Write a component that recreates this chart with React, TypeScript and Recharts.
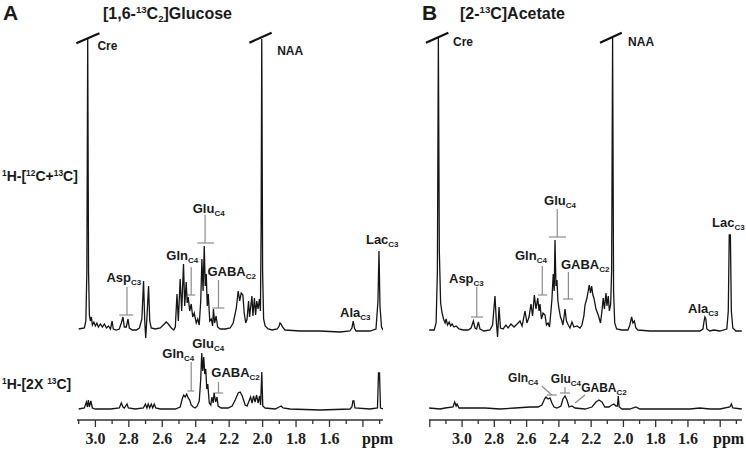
import { Line, LineChart, ReferenceDot, ReferenceLine, XAxis, YAxis } from "recharts";

const SANS = '"Liberation Sans", Arial, sans-serif';
const SERIF = '"Liberation Serif", "Times New Roman", serif';

type Pt = [number, number];

// [ppm, intensity], intensity in arbitrary units
const glucoseTotal: Pt[] = [
  [3.1, 2], [3.066, 3], [3.057, 10], [3.051, 60], [3.046, 292], [3.041, 60], [3.036, 16], [3.03, 10],
  [3.024, 14], [3.018, 6], [3.009, 9], [3.0, 5], [2.991, 8], [2.982, 4], [2.97, 7], [2.958, 4],
  [2.946, 7], [2.934, 3], [2.922, 5], [2.91, 2], [2.9, 10], [2.893, 2], [2.875, 1], [2.857, 2],
  [2.845, 8], [2.835, 14], [2.827, 4], [2.815, 4], [2.805, 12], [2.797, 3], [2.779, 1], [2.755, 1],
  [2.737, 3], [2.722, 12], [2.712, 50], [2.705, 10], [2.699, -7], [2.693, 10], [2.682, 45], [2.675, 10],
  [2.666, 3], [2.642, 2], [2.612, 3], [2.594, 6], [2.576, 9], [2.564, 7], [2.546, 3], [2.531, 1],
  [2.522, 4], [2.512, 37], [2.504, 10], [2.493, 52], [2.484, 20], [2.473, 67], [2.466, 25], [2.457, 49],
  [2.451, 28], [2.445, 34], [2.436, 20], [2.427, 27], [2.418, 14], [2.409, 18], [2.397, 8], [2.388, 12],
  [2.379, 6], [2.37, 30], [2.363, 72], [2.356, 40], [2.349, 85], [2.343, 45], [2.337, 57], [2.331, 25],
  [2.325, 37], [2.316, 10], [2.307, 12], [2.299, 5], [2.294, 22], [2.287, 8], [2.278, 15], [2.269, 4],
  [2.254, 2], [2.224, 2], [2.194, 3], [2.176, 8], [2.158, 22], [2.146, 40], [2.137, 30], [2.128, 38],
  [2.118, 36], [2.11, 18], [2.101, 8], [2.093, 12], [2.084, 30], [2.078, 14], [2.064, 35], [2.058, 15],
  [2.049, 33], [2.042, 16], [2.035, 30], [2.027, 22], [2.019, 32], [2.013, 20], [2.009, 100], [2.005, 292],
  [2.0, 60], [1.994, 12], [1.985, 5], [1.967, 2], [1.943, 1], [1.913, 2], [1.901, 5], [1.896, 8],
  [1.89, 7], [1.881, 4], [1.866, 1], [1.776, 0], [1.657, 0], [1.537, -1], [1.478, 0], [1.466, 3],
  [1.458, 10], [1.451, 3], [1.442, 0], [1.358, 0], [1.322, 2], [1.31, 30], [1.304, 80], [1.298, 25],
  [1.289, 4], [1.28, 1],
];

const glucoseDouble: Pt[] = [
  [3.1, 0], [3.066, 1], [3.054, 7], [3.048, 2], [3.042, 9], [3.036, 2], [3.027, 8], [3.018, 1],
  [3.0, 0], [2.91, 0], [2.857, 1], [2.845, 6], [2.835, 2], [2.827, 1], [2.811, 5], [2.803, 1],
  [2.761, 0], [2.713, 1], [2.701, 5], [2.692, 1], [2.684, 5], [2.675, 1], [2.666, 5], [2.657, 1],
  [2.648, 5], [2.639, 1], [2.612, 0], [2.522, 0], [2.493, 2], [2.481, 10], [2.472, 14], [2.463, 12],
  [2.454, 15], [2.445, 11], [2.436, 9], [2.427, 4], [2.415, 2], [2.403, 1], [2.391, 3], [2.379, 8],
  [2.37, 30], [2.364, 56], [2.358, 38], [2.352, 52], [2.346, 35], [2.34, 40], [2.334, 20], [2.328, 25],
  [2.319, 6], [2.31, 4], [2.303, 12], [2.296, 6], [2.29, 16], [2.281, 7], [2.273, 12], [2.266, 3],
  [2.248, 1], [2.206, 1], [2.182, 3], [2.164, 9], [2.146, 16], [2.134, 17], [2.122, 13], [2.104, 4],
  [2.093, 3], [2.081, 8], [2.072, 12], [2.063, 6], [2.054, 13], [2.045, 7], [2.036, 14], [2.027, 6],
  [2.018, 13], [2.012, 4], [2.005, 37], [1.999, 3], [1.985, 1], [1.925, 0], [1.901, 2], [1.889, 3],
  [1.878, 1], [1.836, 0], [1.657, -1], [1.478, 0], [1.466, 2], [1.46, 8], [1.454, 8], [1.448, 1],
  [1.358, 0], [1.313, 1], [1.307, 36], [1.301, 36], [1.295, 1], [1.28, 0],
];

const acetateTotal: Pt[] = [
  [3.204, 1], [3.173, 1], [3.161, 8], [3.153, 60], [3.147, 293], [3.141, 80], [3.133, 28], [3.124, 18],
  [3.115, 12], [3.105, 8], [3.099, 12], [3.09, 6], [3.08, 9], [3.071, 5], [3.062, 7], [3.05, 4],
  [3.037, 5], [3.019, 2], [2.994, 1], [2.963, 1], [2.944, 3], [2.93, 10], [2.92, 3], [2.91, 2],
  [2.899, 9], [2.889, 2], [2.864, 0], [2.827, 1], [2.811, 6], [2.796, 35], [2.787, 8], [2.78, -6],
  [2.771, 24], [2.762, 3], [2.746, 2], [2.728, 6], [2.715, 3], [2.697, 7], [2.678, 4], [2.659, 7],
  [2.641, 10], [2.628, 5], [2.61, 20], [2.598, 8], [2.585, 14], [2.573, 27], [2.563, 15], [2.552, 36],
  [2.542, 22], [2.531, 33], [2.523, 20], [2.517, 27], [2.508, 12], [2.498, 18], [2.486, 16], [2.477, 6],
  [2.467, 8], [2.458, 4], [2.449, 20], [2.443, 32], [2.435, 57], [2.429, 40], [2.424, 91], [2.418, 45],
  [2.412, 51], [2.406, 30], [2.399, 22], [2.39, 14], [2.383, 11], [2.375, 6], [2.368, 14], [2.362, 22],
  [2.353, 10], [2.342, 6], [2.331, 3], [2.319, 9], [2.307, 4], [2.288, 5], [2.269, 3], [2.257, 6],
  [2.245, 15], [2.238, 26], [2.226, 33], [2.212, 46], [2.204, 38], [2.197, 45], [2.189, 36], [2.183, 33],
  [2.17, 22], [2.156, 16], [2.142, 8], [2.133, 20], [2.125, 33], [2.118, 22], [2.108, 38], [2.102, 25],
  [2.094, 35], [2.087, 20], [2.079, 27], [2.073, 60], [2.067, 293], [2.061, 40], [2.054, 8], [2.042, 2],
  [2.009, 1], [1.972, 1], [1.96, 6], [1.949, 14], [1.941, 8], [1.932, 10], [1.923, 3], [1.91, 1],
  [1.836, 0], [1.65, 0], [1.526, 0], [1.507, 2], [1.5, 10], [1.495, 14], [1.489, 12], [1.483, 2],
  [1.464, 0], [1.44, 1], [1.402, 0], [1.359, 2], [1.35, 20], [1.344, 96], [1.337, 96], [1.331, 20],
  [1.322, 3], [1.303, 0], [1.266, 0],
];

const acetateDouble: Pt[] = [
  [3.204, 1], [3.136, 0], [3.105, 1], [3.056, 2], [3.046, 7], [3.037, 3], [3.031, 5], [3.019, 1],
  [2.95, 1], [2.858, 1], [2.765, 0], [2.672, 1], [2.579, 2], [2.529, 2], [2.505, 4], [2.489, 10],
  [2.48, 12], [2.467, 10], [2.455, 11], [2.443, 6], [2.43, 2], [2.412, 1], [2.387, 3], [2.375, 10],
  [2.362, 13], [2.35, 9], [2.337, 2], [2.319, 3], [2.3, 1], [2.238, 0], [2.195, 2], [2.17, 7],
  [2.152, 9], [2.133, 7], [2.115, 2], [2.09, 2], [2.071, 4], [2.059, 5], [2.046, 3], [2.037, 3],
  [2.032, 13], [2.026, 2], [2.009, 0], [1.96, 0], [1.923, 2], [1.898, 0], [1.774, 0], [1.588, 0],
  [1.526, 1], [1.464, 0], [1.402, 0], [1.34, 2], [1.331, 5], [1.322, 1], [1.266, 0],
];

const tickValuesA = [3.1, 3.0, 2.9, 2.8, 2.7, 2.6, 2.5, 2.4, 2.3, 2.2, 2.1, 2.0, 1.9, 1.8, 1.7, 1.6, 1.5, 1.4, 1.3];
const tickValuesB = [3.2, ...tickValuesA];
const tickLabels = ["3.0", "2.8", "2.6", "2.4", "2.2", "2.0", "1.8", "1.6"];

type Note = { ppm: number; v: number; text: string; sub?: string; size?: number };
type Seg = [number, number, number, number];

const notesATop: Note[] = [
  { ppm: 2.418, v: 118, text: "Glu", sub: "C4" },
  { ppm: 2.576, v: 71, text: "Gln", sub: "C4" },
  { ppm: 2.33, v: 55, text: "GABA", sub: "C2" },
  { ppm: 2.934, v: 49, text: "Asp", sub: "C3" },
  { ppm: 1.382, v: 87, text: "Lac", sub: "C3" },
  { ppm: 1.537, v: 14, text: "Ala", sub: "C3" },
  { ppm: 2.988, v: 281, text: "Cre", size: 12 },
  { ppm: 1.913, v: 276, text: "NAA", size: 12 },
];
const segsATop: Seg[] = [
  [2.344, 116, 2.344, 88], [2.39, 88, 2.291, 88],
  [2.427, 64, 2.427, 36], [2.452, 36, 2.403, 36],
  [2.264, 51, 2.264, 23], [2.3, 23, 2.229, 23],
  [2.811, 44, 2.811, 16], [2.857, 16, 2.773, 16],
];
const breaksA: Seg[] = [[3.114, 287.7, 2.976, 297.7], [2.079, 288.3, 1.946, 298.3]];

const notesABot: Note[] = [
  { ppm: 2.6, v: 51, text: "Gln", sub: "C4" },
  { ppm: 2.421, v: 61, text: "Glu", sub: "C4" },
  { ppm: 2.307, v: 32, text: "GABA", sub: "C2" },
];
const segsABot: Seg[] = [
  [2.427, 47, 2.427, 18], [2.45, 18, 2.409, 18],
  [2.264, 27, 2.264, 16], [2.296, 16, 2.236, 16],
];

const notesBTop: Note[] = [
  { ppm: 2.492, v: 126, text: "Glu", sub: "C4" },
  { ppm: 2.672, v: 71, text: "Gln", sub: "C4" },
  { ppm: 2.387, v: 62, text: "GABA", sub: "C2" },
  { ppm: 3.081, v: 48, text: "Asp", sub: "C3" },
  { ppm: 1.451, v: 104, text: "Lac", sub: "C3" },
  { ppm: 1.599, v: 18, text: "Ala", sub: "C3" },
  { ppm: 3.056, v: 285, text: "Cre", size: 12 },
  { ppm: 1.971, v: 285, text: "NAA", size: 12 },
];
const segsBTop: Seg[] = [
  [2.41, 122, 2.41, 94], [2.461, 94, 2.356, 94],
  [2.503, 65, 2.503, 36], [2.529, 36, 2.473, 36],
  [2.341, 59, 2.341, 32], [2.374, 32, 2.312, 32],
  [2.909, 44, 2.909, 14], [2.945, 14, 2.87, 14],
];
const breaksB: Seg[] = [[3.224, 288.3, 3.085, 298.3], [2.145, 288.3, 2.01, 298.3]];

const notesBBot: Note[] = [
  { ppm: 2.715, v: 27, text: "Gln", sub: "C4", size: 12 },
  { ppm: 2.45, v: 26, text: "Glu", sub: "C4", size: 12 },
  { ppm: 2.262, v: 17, text: "GABA", sub: "C2", size: 12 },
];
const segsBBot: Seg[] = [
  [2.506, 23, 2.444, 14], [2.475, 14, 2.413, 14],
  [2.362, 22, 2.362, 16], [2.393, 16, 2.331, 16],
  [2.238, 14, 2.3, 6],
];

const PpmTick = (p: any) => {
  const t: number = p.payload.value;
  const major = Math.round(t * 10) % 2 === 0;
  const label = tickLabels.includes(t.toFixed(1)) ? t.toFixed(1) : "";
  return (
    <g>
      <line x1={p.x} x2={p.x} y1={p.y} y2={p.y + (major ? 7 : 4)} stroke="#333" strokeWidth={1.3} />
      {label && (
        <text x={p.x} y={p.y + 24} textAnchor="middle" fontFamily={SERIF} fontWeight="bold" fontSize={16} fill="#222">
          {label}
        </text>
      )}
    </g>
  );
};

interface TraceProps {
  pts: Pt[];
  domain: [number, number];
  left: number;
  right: number;
  top: number;
  height: number;
  marginTop: number;
  yDomain: [number, number];
  notes: Note[];
  segs: Seg[];
  breaks?: Seg[];
  ticks?: number[];
}

function Trace({ pts, domain, left, right, top, height, marginTop, yDomain, notes, segs, breaks = [], ticks }: TraceProps) {
  const rows = pts.map(([ppm, v]) => ({ ppm, v }));
  return (
    <div style={{ position: "absolute", left: 0, top }}>
      <LineChart width={746} height={height} data={rows} margin={{ top: marginTop, right: 746 - right, bottom: 0, left }}>
        <XAxis
          dataKey="ppm"
          type="number"
          domain={domain}
          reversed
          allowDataOverflow
          hide={!ticks}
          ticks={ticks}
          interval={0}
          height={30}
          tickSize={0}
          tickMargin={0}
          tickLine={false}
          tick={<PpmTick />}
          axisLine={{ stroke: "#333", strokeWidth: 1.5 }}
        />
        <YAxis hide domain={yDomain} allowDataOverflow />
        {segs.map(([x1, y1, x2, y2], i) => (
          <ReferenceLine key={"s" + i} segment={[{ x: x1, y: y1 }, { x: x2, y: y2 }]} stroke="#8c8c8c" strokeWidth={1.2} ifOverflow="visible" />
        ))}
        {breaks.map(([x1, y1, x2, y2], i) => (
          <ReferenceLine key={"b" + i} segment={[{ x: x1, y: y1 }, { x: x2, y: y2 }]} stroke="#111" strokeWidth={2.2} ifOverflow="visible" />
        ))}
        <Line dataKey="v" stroke="#151515" strokeWidth={1.3} dot={false} isAnimationActive={false} />
        {notes.map((n, i) => (
          <ReferenceDot
            key={"n" + i}
            x={n.ppm}
            y={n.v}
            r={1}
            ifOverflow="visible"
            shape={(p: any) => (
              <text x={p.cx} y={p.cy} fontFamily={SANS} fontWeight="bold" fontSize={n.size ?? 13} fill="#1a1a1a">
                {n.text}
                {n.sub && (
                  <tspan fontSize={8} dy={3}>
                    {n.sub}
                  </tspan>
                )}
              </text>
            )}
          />
        ))}
      </LineChart>
    </div>
  );
}

const abs = (left: number, top: number, size: number, font = SANS): React.CSSProperties => ({
  position: "absolute",
  left,
  top,
  fontFamily: font,
  fontWeight: "bold",
  fontSize: size,
  lineHeight: 1,
  whiteSpace: "nowrap",
  color: "#1a1a1a",
});

const sup: React.CSSProperties = { fontSize: "0.6em", position: "relative", top: "-0.6em", verticalAlign: "baseline" };
const sub: React.CSSProperties = { fontSize: "0.6em", position: "relative", top: "0.3em", verticalAlign: "baseline" };

export default function App() {
  const domA: [number, number] = [1.28, 3.11];
  const domB: [number, number] = [1.265, 3.205];
  return (
    <div style={{ position: "absolute", left: 0, top: 0, width: 746, height: 450, background: "#fff", overflow: "hidden" }}>
      <Trace pts={glucoseTotal} domain={domA} left={77} right={383} top={0} height={340} marginTop={30} yDomain={[-9, 301]} notes={notesATop} segs={segsATop} breaks={breaksA} />
      <Trace pts={glucoseDouble} domain={domA} left={77} right={383} top={335} height={115} marginTop={0} yDomain={[-11, 74]} notes={notesABot} segs={segsABot} ticks={tickValuesA} />
      <Trace pts={acetateTotal} domain={domB} left={429} right={742} top={0} height={340} marginTop={30} yDomain={[-9, 301]} notes={notesBTop} segs={segsBTop} breaks={breaksB} />
      <Trace pts={acetateDouble} domain={domB} left={429} right={742} top={335} height={115} marginTop={0} yDomain={[-11, 74]} notes={notesBBot} segs={segsBBot} ticks={tickValuesB} />

      <div style={abs(3, 2, 21)}>A</div>
      <div style={abs(103, 6, 16)}>
        [1,6-<span style={sup}>13</span>C<span style={sub}>2</span>]Glucose
      </div>
      <div style={abs(422, 2, 21)}>B</div>
      <div style={abs(460, 6, 16)}>
        [2-<span style={sup}>13</span>C]Acetate
      </div>
      <div style={abs(2, 169, 14)}>
        <span style={sup}>1</span>H-[<span style={sup}>12</span>C+<span style={sup}>13</span>C]
      </div>
      <div style={abs(2, 377, 14)}>
        <span style={sup}>1</span>H-[2X <span style={sup}>13</span>C]
      </div>
      <div style={abs(362, 431, 16, SERIF)}>ppm</div>
      <div style={abs(713, 431, 16, SERIF)}>ppm</div>
    </div>
  );
}
